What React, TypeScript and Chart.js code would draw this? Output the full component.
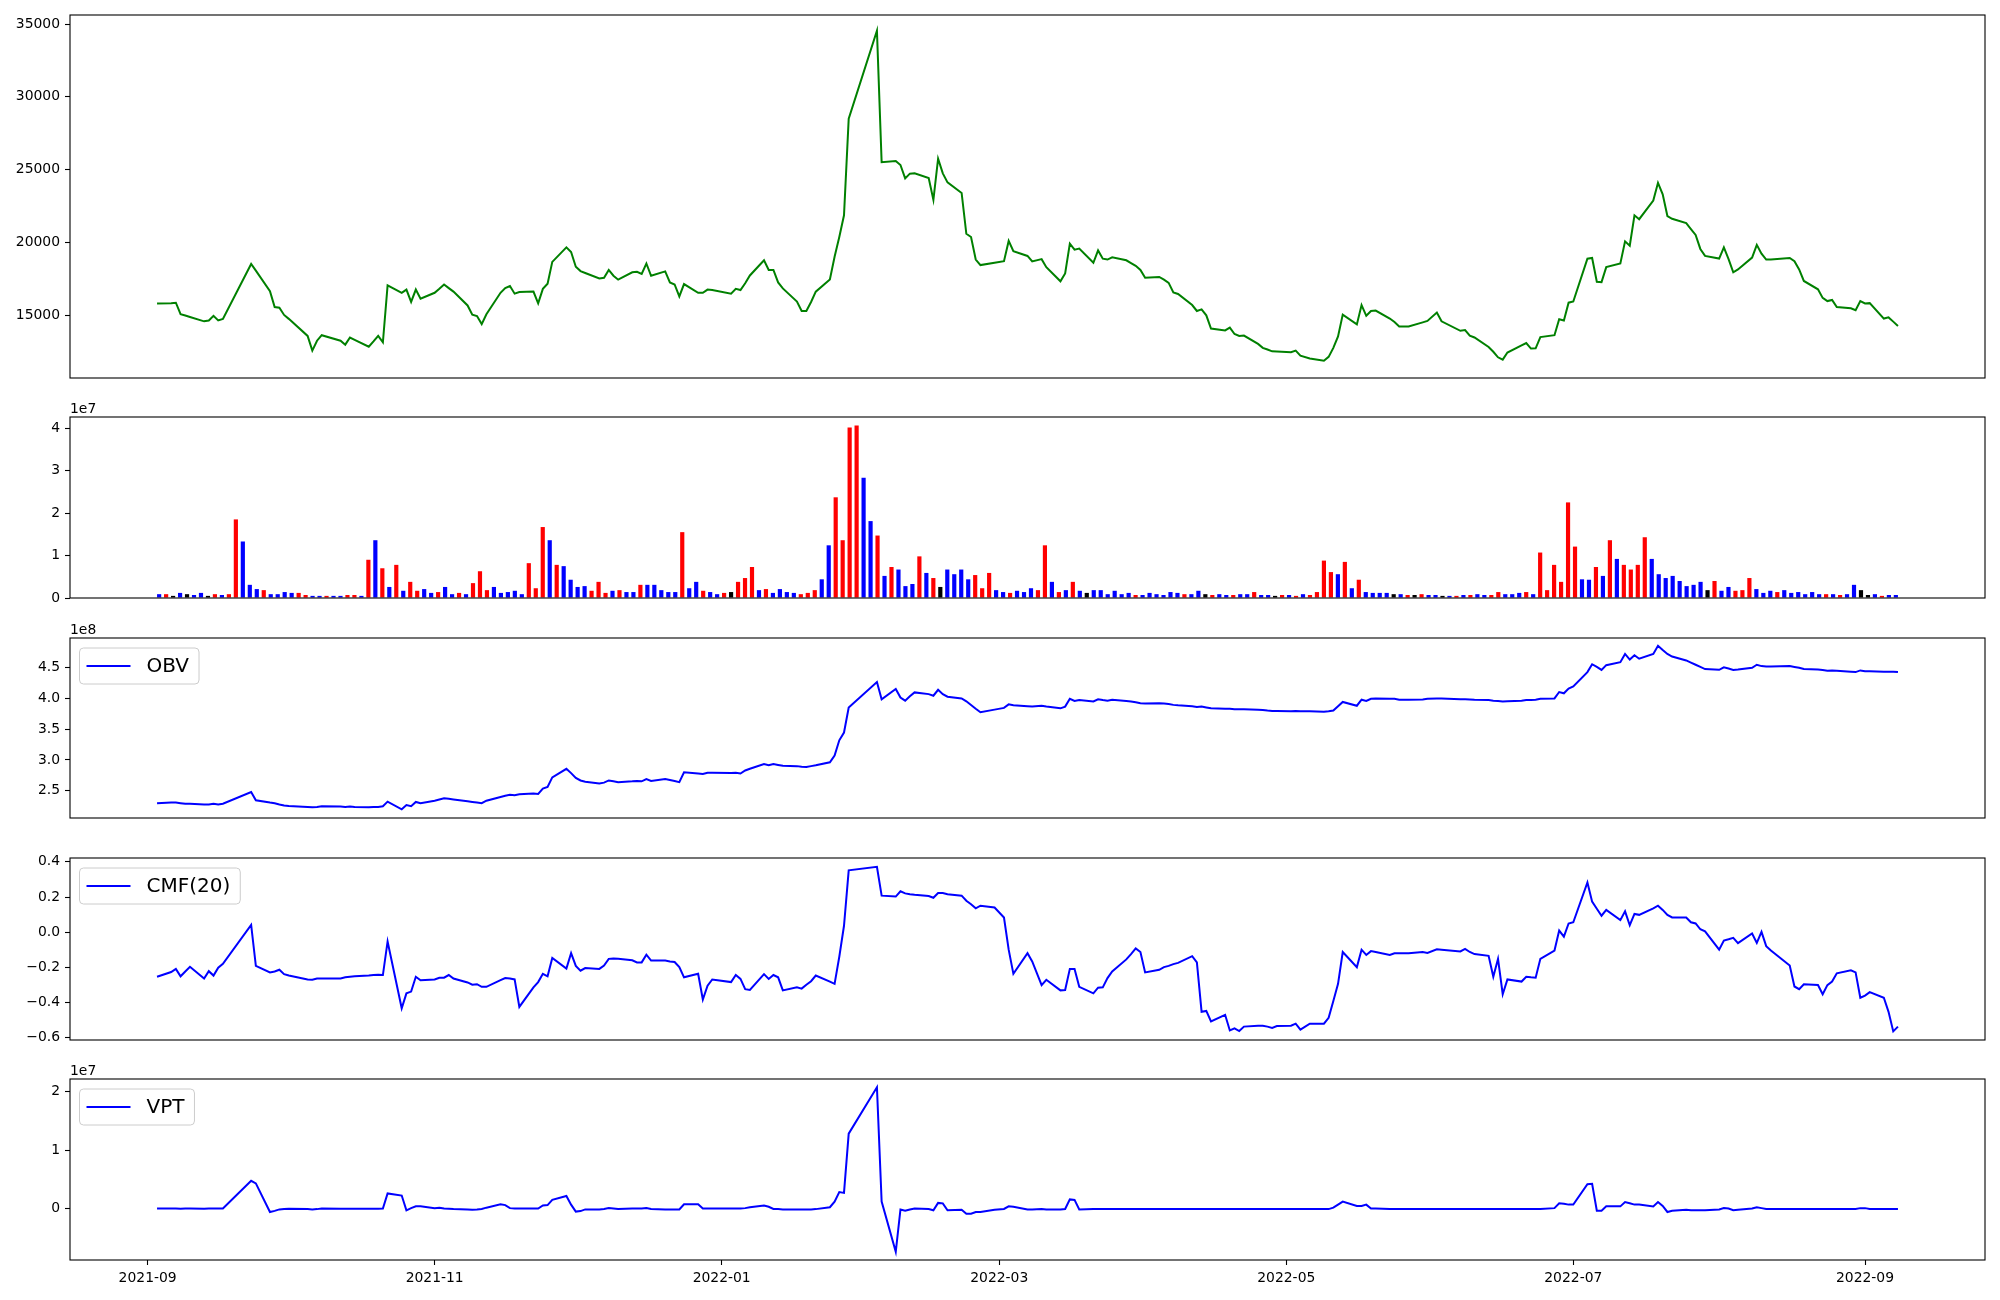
import React, { useEffect, useRef } from 'react';
import { Chart, registerables } from 'chart.js';

Chart.register(...registerables);

const FONT = "'DejaVu Sans', 'Liberation Sans', sans-serif";

// ---------- categories: Korean trading days ----------
const TRADING_DAYS: [string, number[]][] = [
  ['2021-09', [3, 6, 7, 8, 9, 10, 13, 14, 15, 16, 17, 23, 24, 27, 28, 29, 30]],
  ['2021-10', [1, 5, 6, 7, 8, 12, 13, 14, 15, 18, 19, 20, 21, 22, 25, 26, 27, 28, 29]],
  ['2021-11', [1, 2, 3, 4, 5, 8, 9, 10, 11, 12, 15, 16, 17, 18, 19, 22, 23, 24, 25, 26, 29, 30]],
  ['2021-12', [1, 2, 3, 6, 7, 8, 9, 10, 13, 14, 15, 16, 17, 20, 21, 22, 23, 24, 27, 28, 29, 30]],
  ['2022-01', [3, 4, 5, 6, 7, 10, 11, 12, 13, 14, 17, 18, 19, 20, 21, 24, 25, 26, 27, 28]],
  ['2022-02', [3, 4, 7, 8, 9, 10, 11, 14, 15, 16, 17, 18, 21, 22, 23, 24, 25, 28]],
  ['2022-03', [2, 3, 4, 7, 8, 10, 11, 14, 15, 16, 17, 18, 21, 22, 23, 24, 25, 28, 29, 30, 31]],
  ['2022-04', [1, 4, 5, 6, 7, 8, 11, 12, 13, 14, 15, 18, 19, 20, 21, 22, 25, 26, 27, 28, 29]],
  ['2022-05', [2, 3, 4, 6, 9, 10, 11, 12, 13, 16, 17, 18, 19, 20, 23, 24, 25, 26, 27, 30, 31]],
  ['2022-06', [2, 3, 7, 8, 9, 10, 13, 14, 15, 16, 17, 20, 21, 22, 23, 24, 27, 28, 29, 30]],
  ['2022-07', [1, 4, 5, 6, 7, 8, 11, 12, 13, 14, 15, 18, 19, 20, 21, 22, 25, 26, 27, 28, 29]],
  ['2022-08', [1, 2, 3, 4, 5, 8, 9, 10, 11, 12, 16, 17, 18, 19, 22, 23, 24, 25, 26, 29, 30, 31]],
  ['2022-09', [1, 2, 5, 6, 7, 8]],
];

const X_TICK_MONTHS = ['2021-09', '2021-11', '2022-01', '2022-03', '2022-05', '2022-07', '2022-09'];

// ---------- series ----------
const PRICE = [
  15815, 15840, 15870, 15080, 14990, 14890, 14590, 14650, 14970, 14650,
  14760, 18530, 18070, 16660, 15570, 15520, 15030, 14760, 13590, 12580,
  13260, 13640, 13260, 12990, 13480, 13320, 12850, 13210, 13590, 13150,
  17060, 16550, 16770, 15920, 16770, 16140, 16550, 16820, 17120, 16870,
  16630, 15680, 15050, 14950, 14400, 15080, 16550, 16870, 17010, 16490,
  16600, 16630, 15820, 16820, 17170, 18670, 19670, 19350, 18340, 18040,
  17910, 17530, 17580, 18120, 17720, 17450, 17960, 17990, 17850, 18560,
  17720, 18020, 17260, 17120, 16300, 17150, 16550, 16550, 16770, 16740,
  16490, 16820, 16740, 17200, 17740, 18780, 18120, 18120, 17260, 16850,
  15950, 15300, 15300, 15920, 16630, 17470, 19020, 20380, 21870, 28500,
  34540, 25510, 25600, 25320, 24400, 24730, 24750, 24430, 22930, 25760,
  24750, 24130, 23400, 20600, 20380, 18830, 18450, 18610, 18720, 20110,
  19400, 19080, 18700, 18860, 18310, 17340, 17880, 19920, 19510, 19590,
  18610, 19460, 18890, 18830, 18990, 18780, 18590, 18400, 18120, 17580,
  17640, 17450, 17230, 16580, 16470, 15710, 15300, 15410, 15000, 14100,
  13970, 14160, 13720, 13590, 13610, 13040, 12770, 12660, 12530, 12520,
  12470, 12580, 12230, 12040, 11880, 12150, 12770, 13560, 15050, 14380,
  15710, 14970, 15300, 15330, 14780, 14540, 14240, 14240, 14240, 14520,
  14620, 15190, 14590, 13940, 13990, 13610, 13480, 12830, 12500, 12120,
  11960, 12450, 12940, 13100, 12720, 12740, 13510, 13640, 14730, 14650,
  15870, 15950, 18890, 18940, 17310, 17280, 18310, 18560, 20080, 19780,
  21870, 21600, 22880, 24100, 23310, 21820, 21630, 21330, 20920, 20520,
  19560, 19080, 18900, 19670, 18860, 17960, 18150, 18970, 19840, 19240,
  18830, 18830, 18940, 18720, 18150, 17360, 16790, 16200, 15980, 16060,
  15570, 15490, 15350, 15980, 15820, 15840, 14780, 14860, 14570, 14270,
];

// volume in millions of shares
const VOLUME_M = [
  0.9, 0.9, 0.5, 1.2, 0.9, 0.7, 1.2, 0.5, 0.9, 0.7,
  0.9, 18.5, 13.3, 3.1, 2.1, 1.85, 0.9, 0.9, 1.4, 1.2,
  1.2, 0.7, 0.5, 0.5, 0.5, 0.5, 0.5, 0.7, 0.7, 0.5,
  9.0, 13.6, 7.0, 2.6, 7.8, 1.7, 3.8, 1.7, 2.1, 1.2,
  1.4, 2.6, 0.9, 1.2, 0.9, 3.5, 6.3, 1.85, 2.6, 1.2,
  1.4, 1.7, 0.9, 8.2, 2.3, 16.7, 13.6, 7.8, 7.5, 4.3,
  2.6, 2.8, 1.7, 3.8, 1.2, 1.7, 1.85, 1.4, 1.4, 3.1,
  3.1, 3.1, 1.85, 1.4, 1.4, 15.5, 2.3, 3.8, 1.7, 1.4,
  0.9, 1.2, 1.4, 3.8, 4.7, 7.3, 1.85, 2.1, 1.2, 2.1,
  1.4, 1.2, 0.9, 1.2, 1.85, 4.4, 12.4, 23.7, 13.6, 40.1,
  40.6, 28.3, 18.1, 14.7, 5.2, 7.3, 6.7, 2.8, 3.3, 9.8,
  5.9, 4.7, 2.6, 6.7, 5.6, 6.7, 4.4, 5.4, 2.3, 5.9,
  1.85, 1.4, 1.2, 1.7, 1.4, 2.3, 1.85, 12.4, 3.8, 1.4,
  1.85, 3.8, 1.7, 1.2, 1.85, 1.85, 0.9, 1.7, 0.9, 1.2,
  0.7, 0.7, 1.2, 0.9, 0.7, 1.4, 1.2, 0.9, 0.9, 1.7,
  0.9, 0.7, 0.9, 0.7, 0.7, 0.9, 0.9, 1.4, 0.7, 0.7,
  0.5, 0.7, 0.7, 0.5, 0.9, 0.7, 1.4, 8.8, 6.1, 5.6,
  8.5, 2.3, 4.3, 1.4, 1.2, 1.2, 1.2, 0.9, 0.9, 0.7,
  0.7, 0.9, 0.7, 0.7, 0.5, 0.5, 0.5, 0.7, 0.7, 0.9,
  0.7, 0.7, 1.4, 0.9, 0.9, 1.2, 1.4, 0.9, 10.7, 1.85,
  7.8, 3.8, 22.5, 12.1, 4.4, 4.3, 7.3, 5.2, 13.6, 9.2,
  7.8, 6.7, 7.8, 14.3, 9.2, 5.6, 4.7, 5.2, 4.0, 2.8,
  3.1, 3.8, 1.85, 4.0, 1.7, 2.6, 1.7, 1.85, 4.7, 2.1,
  1.2, 1.7, 1.4, 1.85, 1.2, 1.4, 0.9, 1.4, 0.9, 0.9,
  0.9, 0.7, 0.9, 3.1, 1.85, 0.7, 0.9, 0.5, 0.7, 0.7,
];

// r = up day, b = down day, k = unchanged
const VOLUME_DIR =
  'brkbkbbkrb' + 'rrbbbrbbbb' + 'rrbbrbbrrb' + 'rbrbrbrrbb' + 'rbbrbrrrbb' +
  'bbbrrrbrbb' + 'bbrrrbrbbr' + 'bbbbbrbbrb' + 'brkrrrbrbb' + 'bbrrrbbrrr' +
  'rbbrbrbbbr' + 'brkbbbbrrr' + 'bbrbbbrrbr' + 'brbkbbbbbb' + 'rbbbbbbrbb' +
  'krbbrbbrbb' + 'krbrbrrrrb' + 'rbrbbbbkbr' + 'krbbkbrbrb' + 'brrbbbrbrr' +
  'rrrrbbrbrb' + 'rrrrbbbbbb' + 'bbkrbbrrrb' + 'bbrbbbbbbr' + 'brbbkkbrbb';

// OBV in units of 1e8
const OBV_E8 = [
  2.297, 2.31, 2.31, 2.30, 2.29, 2.29, 2.28, 2.28, 2.29, 2.28,
  2.29, 2.479, 2.346, 2.31, 2.30, 2.28, 2.262, 2.255, 2.24, 2.235,
  2.24, 2.25, 2.245, 2.24, 2.245, 2.24, 2.235, 2.24, 2.24, 2.25,
  2.325, 2.20, 2.27, 2.25, 2.32, 2.30, 2.34, 2.36, 2.38, 2.37,
  2.36, 2.33, 2.32, 2.31, 2.30, 2.34, 2.40, 2.42, 2.437, 2.43,
  2.444, 2.458, 2.45, 2.535, 2.563, 2.717, 2.857, 2.787, 2.71, 2.668,
  2.647, 2.619, 2.633, 2.668, 2.654, 2.64, 2.654, 2.661, 2.654, 2.69,
  2.66, 2.69, 2.675, 2.66, 2.64, 2.80, 2.78, 2.773, 2.794, 2.794,
  2.787, 2.794, 2.78, 2.83, 2.857, 2.934, 2.913, 2.934, 2.92, 2.906,
  2.90, 2.89, 2.885, 2.90, 2.913, 2.962, 3.073, 3.318, 3.444, 3.85,
  4.262, 3.983, 4.15, 4.01, 3.96, 4.03, 4.094, 4.066, 4.04, 4.136,
  4.066, 4.024, 3.996, 3.95, 3.89, 3.83, 3.773, 3.815, 3.843, 3.90,
  3.885, 3.87, 3.864, 3.878, 3.864, 3.836, 3.864, 3.99, 3.955, 3.97,
  3.948, 3.983, 3.97, 3.96, 3.975, 3.955, 3.948, 3.934, 3.92, 3.913,
  3.92, 3.913, 3.906, 3.892, 3.885, 3.87, 3.857, 3.864, 3.85, 3.836,
  3.83, 3.83, 3.82, 3.82, 3.82, 3.815, 3.81, 3.80, 3.794, 3.794,
  3.787, 3.794, 3.787, 3.787, 3.78, 3.787, 3.80, 3.87, 3.94, 3.878,
  3.975, 3.955, 3.99, 3.996, 3.99, 3.99, 3.975, 3.975, 3.975, 3.98,
  3.99, 3.996, 3.996, 3.983, 3.983, 3.98, 3.975, 3.97, 3.96, 3.955,
  3.948, 3.95, 3.96, 3.97, 3.97, 3.975, 3.99, 3.996, 4.10, 4.08,
  4.157, 4.19, 4.423, 4.55, 4.507, 4.458, 4.535, 4.584, 4.717, 4.626,
  4.696, 4.64, 4.717, 4.85, 4.78, 4.717, 4.675, 4.612, 4.577, 4.542,
  4.507, 4.472, 4.46, 4.50, 4.48, 4.458, 4.465, 4.493, 4.542, 4.52,
  4.514, 4.514, 4.52, 4.507, 4.493, 4.472, 4.465, 4.458, 4.444, 4.448,
  4.444, 4.43, 4.423, 4.45, 4.437, 4.437, 4.43, 4.43, 4.427, 4.423,
];

const CMF20 = [
  -0.253, -0.226, -0.208, -0.25, -0.223, -0.196, -0.263, -0.221, -0.246, -0.201,
  -0.179, 0.042, -0.191, -0.228, -0.223, -0.213, -0.238, -0.246, -0.268, -0.27,
  -0.263, -0.263, -0.263, -0.256, -0.253, -0.25, -0.246, -0.243, -0.241, -0.243,
  -0.052, -0.432, -0.347, -0.337, -0.253, -0.273, -0.268, -0.258, -0.258, -0.243,
  -0.263, -0.285, -0.298, -0.295, -0.31, -0.31, -0.272, -0.26, -0.263, -0.268,
  -0.424, -0.313, -0.283, -0.236, -0.25, -0.146, -0.206, -0.119, -0.191, -0.218,
  -0.203, -0.208, -0.189, -0.151, -0.149, -0.151, -0.159, -0.171, -0.171, -0.127,
  -0.161, -0.161, -0.166, -0.169, -0.198, -0.256, -0.236, -0.382, -0.303, -0.268,
  -0.283, -0.243, -0.265, -0.323, -0.328, -0.238, -0.265, -0.243, -0.256, -0.33,
  -0.313, -0.32, -0.298, -0.278, -0.246, -0.28, -0.293, -0.139, 0.037, 0.352,
  0.372, 0.208, 0.203, 0.233, 0.221, 0.216, 0.213, 0.206, 0.196, 0.223,
  0.223, 0.216, 0.208, 0.179, 0.159, 0.136, 0.151, 0.141, 0.084, -0.099,
  -0.236, -0.119, -0.166, -0.30, -0.27, -0.33, -0.328, -0.208, -0.208, -0.31,
  -0.347, -0.315, -0.313, -0.26, -0.223, -0.154, -0.124, -0.092, -0.112, -0.228,
  -0.213, -0.198, -0.191, -0.181, -0.174, -0.136, -0.171, -0.452, -0.447, -0.506,
  -0.469, -0.558, -0.546, -0.561, -0.536, -0.531, -0.531, -0.536, -0.543, -0.533,
  -0.531, -0.519, -0.553, -0.519, -0.519, -0.486, -0.39, -0.293, -0.112, -0.198,
  -0.099, -0.129, -0.107, -0.112, -0.129, -0.119, -0.119, -0.119, -0.119, -0.112,
  -0.117, -0.097, -0.099, -0.109, -0.094, -0.112, -0.124, -0.134, -0.253, -0.151,
  -0.352, -0.268, -0.28, -0.253, -0.256, -0.258, -0.151, -0.104, 0.01, -0.025,
  0.05, 0.057, 0.283, 0.174, 0.134, 0.094, 0.127, 0.069, 0.119, 0.04,
  0.104, 0.099, 0.136, 0.151, 0.127, 0.099, 0.084, 0.084, 0.057, 0.05,
  0.017, 0.005, -0.099, -0.047, -0.04, -0.032, -0.062, -0.007, -0.06, 0.002,
  -0.079, -0.104, -0.189, -0.308, -0.323, -0.295, -0.30, -0.352, -0.30, -0.28,
  -0.233, -0.216, -0.228, -0.372, -0.36, -0.34, -0.372, -0.452, -0.563, -0.536,
];

// VPT in units of 1e7
const VPT_E7 = [
  0, 0, 0, -0.005, 0, 0, -0.003, 0, 0, 0,
  0, 0.474, 0.43, -0.059, -0.04, -0.015, -0.007, -0.005, -0.01, -0.015,
  -0.01, 0, -0.005, -0.005, -0.005, -0.005, -0.005, -0.005, -0.003, 0,
  0.259, 0.222, -0.03, 0.007, 0.037, 0.037, 0.007, 0.015, 0, -0.005,
  -0.01, -0.015, -0.02, -0.015, -0.007, 0.015, 0.074, 0.059, 0.007, 0,
  0, 0, 0, 0.052, 0.059, 0.148, 0.215, 0.067, -0.052, -0.044,
  -0.015, -0.015, -0.007, 0.007, 0, -0.007, 0, 0, 0, 0.007,
  -0.007, -0.015, -0.015, -0.015, -0.015, 0.074, 0.074, 0, 0, 0,
  0, 0, 0, 0.007, 0.022, 0.052, 0.03, -0.007, -0.01, -0.015,
  -0.015, -0.015, -0.015, -0.015, -0.01, 0.022, 0.119, 0.281, 0.267, 1.281,
  2.074, 0.119, -0.741, -0.015, -0.037, -0.015, 0, -0.007, -0.03, 0.096,
  0.089, -0.03, -0.022, -0.089, -0.089, -0.059, -0.059, -0.022, -0.007, 0.037,
  0.03, -0.015, -0.015, -0.007, -0.015, -0.015, -0.007, 0.156, 0.148, -0.015,
  -0.01, -0.01, -0.01, -0.01, -0.01, -0.01, -0.01, -0.01, -0.01, -0.01,
  -0.01, -0.01, -0.01, -0.01, -0.01, -0.01, -0.01, -0.01, -0.01, -0.01,
  -0.01, -0.01, -0.01, -0.01, -0.01, -0.01, -0.01, -0.01, -0.01, -0.01,
  -0.01, -0.01, -0.01, -0.01, -0.01, -0.01, 0.015, 0.067, 0.119, 0.044,
  0.044, 0.067, 0, 0, -0.007, -0.007, -0.007, -0.007, -0.007, -0.007,
  -0.007, -0.007, -0.007, -0.007, -0.007, -0.007, -0.007, -0.007, -0.007, -0.007,
  -0.007, -0.007, -0.007, -0.007, -0.007, -0.007, -0.007, 0.007, 0.089, 0.081,
  0.067, 0.067, 0.415, 0.422, -0.037, -0.037, 0.037, 0.037, 0.111, 0.089,
  0.067, 0.067, 0.037, 0.111, 0.044, -0.059, -0.037, -0.022, -0.03, -0.03,
  -0.03, -0.03, -0.015, 0.007, 0, -0.03, -0.022, 0, 0.022, 0.007,
  -0.007, -0.007, -0.007, -0.007, -0.007, -0.007, -0.007, -0.007, -0.007, -0.007,
  -0.007, -0.007, -0.007, 0.007, 0.007, -0.007, -0.007, -0.007, -0.007, -0.007,
];

// ---------- tick values ----------
const PRICE_TICKS = [15000, 20000, 25000, 30000, 35000];
const VOLUME_TICKS = [0, 1e7, 2e7, 3e7, 4e7];
const OBV_TICKS = [2.5, 3.0, 3.5, 4.0, 4.5];
const CMF_TICKS = [-0.6, -0.4, -0.2, 0, 0.2, 0.4];
const VPT_TICKS = [0, 1, 2];

// ---------- layout ----------
const W = 2000;
const H = 1300;
const PLOT_LEFT = 70;
const PLOT_RIGHT = 1985;
const PANELS = [
  { top: 15, bottom: 378 },
  { top: 417, bottom: 598 },
  { top: 638, bottom: 818 },
  { top: 858, bottom: 1040 },
  { top: 1079, bottom: 1260 },
];
const X_AXIS_H = 30;
const TICK_FONT = 13.9;

const EPOCH = Date.UTC(2021, 8, 1);
function dayNum(s: string): number {
  const [y, m, d] = s.split('-').map(Number);
  return (Date.UTC(y, m - 1, d) - EPOCH) / 86400000;
}

const DATES: string[] = TRADING_DAYS.flatMap(([m, ds]) =>
  ds.map((d) => `${m}-${String(d).padStart(2, '0')}`)
);
const XS = DATES.map(dayNum);
const X_SPAN = XS[XS.length - 1] - XS[0];
const X_MIN = XS[0] - 0.05 * X_SPAN;
const X_MAX = XS[XS.length - 1] + 0.05 * X_SPAN;

const BAR_W = 0.6;
const BAR_LO = -BAR_W / 2;
const BAR_HI = VOLUME_M.length - 1 + BAR_W / 2;
const BAR_MIN = BAR_LO - 0.05 * (BAR_HI - BAR_LO);
const BAR_MAX = BAR_HI + 0.05 * (BAR_HI - BAR_LO);

const DIR_COLOR: Record<string, string> = { r: '#ff0000', b: '#0000ff', k: '#000000' };

function roundRectPath(ctx: CanvasRenderingContext2D, x: number, y: number, w: number, h: number, r: number) {
  ctx.beginPath();
  ctx.moveTo(x + r, y);
  ctx.lineTo(x + w - r, y);
  ctx.arcTo(x + w, y, x + w, y + r, r);
  ctx.lineTo(x + w, y + h - r);
  ctx.arcTo(x + w, y + h, x + w - r, y + h, r);
  ctx.lineTo(x + r, y + h);
  ctx.arcTo(x, y + h, x, y + h - r, r);
  ctx.lineTo(x, y + r);
  ctx.arcTo(x, y, x + r, y, r);
  ctx.closePath();
}

const decoPlugin = {
  id: 'deco',
  afterDatasetsDraw(chart: any, _args: any, opts: any) {
    const ctx: CanvasRenderingContext2D = chart.ctx;
    const a = chart.chartArea;
    ctx.save();
    ctx.strokeStyle = '#000';
    ctx.lineWidth = 1.1;
    ctx.strokeRect(a.left, a.top, a.right - a.left, a.bottom - a.top);
    if (opts && opts.offset) {
      ctx.font = `${TICK_FONT}px ${FONT}`;
      ctx.fillStyle = '#000';
      ctx.textAlign = 'left';
      ctx.textBaseline = 'alphabetic';
      ctx.fillText(opts.offset, a.left, a.top - 4);
    }
    if (opts && opts.legend) {
      ctx.font = `20px ${FONT}`;
      const tw = ctx.measureText(opts.legend).width;
      const bx = a.left + 9.5;
      const by = a.top + 10;
      const bw = 67 + tw + 10;
      const bh = 36;
      roundRectPath(ctx, bx, by, bw, bh, 4);
      ctx.fillStyle = 'rgba(255,255,255,0.8)';
      ctx.fill();
      ctx.strokeStyle = '#cccccc';
      ctx.lineWidth = 1;
      ctx.stroke();
      ctx.beginPath();
      ctx.moveTo(bx + 7, by + bh / 2);
      ctx.lineTo(bx + 51, by + bh / 2);
      ctx.strokeStyle = opts.color;
      ctx.lineWidth = 2;
      ctx.stroke();
      ctx.fillStyle = '#000';
      ctx.textAlign = 'left';
      ctx.textBaseline = 'middle';
      ctx.fillText(opts.legend, bx + 67, by + bh / 2 + 1);
    }
    ctx.restore();
  },
};

const gridOpts = {
  drawOnChartArea: false,
  drawTicks: true,
  tickLength: 5,
  tickColor: '#000',
  tickWidth: 1.1,
  color: '#000',
};

function yScale(min: number, max: number, ticks: number[], fmt: (v: number) => string) {
  return {
    type: 'linear',
    position: 'left',
    min,
    max,
    afterFit: (s: any) => {
      s.width = PLOT_LEFT;
    },
    afterBuildTicks: (s: any) => {
      s.ticks = ticks.map((v) => ({ value: v }));
    },
    ticks: {
      autoSkip: false,
      padding: 5,
      color: '#000',
      font: { family: FONT, size: TICK_FONT },
      callback: (v: any) => fmt(Number(v)),
    },
    grid: gridOpts,
    border: { display: false },
  };
}

function hiddenX(min: number, max: number) {
  return { type: 'linear', min, max, display: false, offset: false };
}

function bottomX() {
  return {
    type: 'linear',
    position: 'bottom',
    min: X_MIN,
    max: X_MAX,
    offset: false,
    afterFit: (s: any) => {
      s.height = X_AXIS_H;
    },
    afterBuildTicks: (s: any) => {
      s.ticks = X_TICK_MONTHS.map((m) => ({ value: dayNum(m + '-01') }));
    },
    ticks: {
      autoSkip: false,
      maxRotation: 0,
      minRotation: 0,
      padding: 5,
      color: '#000',
      font: { family: FONT, size: TICK_FONT },
      callback: (_v: any, i: number) => X_TICK_MONTHS[i],
    },
    grid: gridOpts,
    border: { display: false },
  };
}

function padding(p: { top: number; bottom: number }, withXAxis: boolean) {
  return {
    left: 0,
    right: W - PLOT_RIGHT,
    top: p.top,
    bottom: withXAxis ? H - p.bottom - X_AXIS_H : H - p.bottom,
  };
}

const minus = (s: string) => s.replace('-', '\u2212');

function lineDataset(values: number[], color: string) {
  return {
    data: XS.map((x, i) => ({ x, y: values[i] })),
    borderColor: color,
    borderWidth: 2,
    pointRadius: 0,
    pointHoverRadius: 0,
    tension: 0,
    fill: false,
  };
}

function baseOptions(p: { top: number; bottom: number }, withXAxis: boolean, deco: any, scales: any) {
  return {
    responsive: false,
    animation: false,
    events: [],
    layout: { padding: padding(p, withXAxis) },
    plugins: { legend: { display: false }, tooltip: { enabled: false }, deco },
    scales,
  };
}

function buildConfigs(): any[] {
  const price = {
    type: 'line',
    data: { datasets: [lineDataset(PRICE, '#008000')] },
    options: baseOptions(PANELS[0], false, {}, {
      x: hiddenX(X_MIN, X_MAX),
      y: yScale(10700, 35620, PRICE_TICKS, (v) => String(Math.round(v))),
    }),
    plugins: [decoPlugin],
  };
  const volume = {
    type: 'bar',
    data: {
      datasets: [
        {
          data: VOLUME_M.map((v, i) => ({ x: i, y: v * 1e6 })),
          backgroundColor: VOLUME_DIR.split('').map((c) => DIR_COLOR[c]),
          borderWidth: 0,
          barPercentage: BAR_W,
          categoryPercentage: 1,
        },
      ],
    },
    options: baseOptions(PANELS[1], false, { offset: '1e7' }, {
      x: hiddenX(BAR_MIN, BAR_MAX),
      y: yScale(0, 4.26e7, VOLUME_TICKS, (v) => String(Math.round(v / 1e7))),
    }),
    plugins: [decoPlugin],
  };
  const obv = {
    type: 'line',
    data: { datasets: [lineDataset(OBV_E8, '#0000ff')] },
    options: baseOptions(PANELS[2], false, { offset: '1e8', legend: 'OBV', color: '#0000ff' }, {
      x: hiddenX(X_MIN, X_MAX),
      y: yScale(2.06, 4.975, OBV_TICKS, (v) => v.toFixed(1)),
    }),
    plugins: [decoPlugin],
  };
  const cmf = {
    type: 'line',
    data: { datasets: [lineDataset(CMF20, '#0000ff')] },
    options: baseOptions(PANELS[3], false, { legend: 'CMF(20)', color: '#0000ff' }, {
      x: hiddenX(X_MIN, X_MAX),
      y: yScale(-0.612, 0.422, CMF_TICKS, (v) => minus((Math.abs(v) < 1e-9 ? 0 : v).toFixed(1))),
    }),
    plugins: [decoPlugin],
  };
  const vpt = {
    type: 'line',
    data: { datasets: [lineDataset(VPT_E7, '#0000ff')] },
    options: baseOptions(PANELS[4], true, { offset: '1e7', legend: 'VPT', color: '#0000ff' }, {
      x: bottomX(),
      y: yScale(-0.88, 2.215, VPT_TICKS, (v) => String(Math.round(v))),
    }),
    plugins: [decoPlugin],
  };
  return [price, volume, obv, cmf, vpt];
}

export default function App() {
  const r0 = useRef<HTMLCanvasElement>(null);
  const r1 = useRef<HTMLCanvasElement>(null);
  const r2 = useRef<HTMLCanvasElement>(null);
  const r3 = useRef<HTMLCanvasElement>(null);
  const r4 = useRef<HTMLCanvasElement>(null);
  const refs = [r0, r1, r2, r3, r4];

  useEffect(() => {
    const configs = buildConfigs();
    const charts = configs.map((cfg, i) => new Chart(refs[i].current as HTMLCanvasElement, cfg));
    return () => {
      charts.forEach((c) => c.destroy());
    };
  }, []);

  return (
    <div style={{ position: 'absolute', left: 0, top: 0, width: W, height: H, background: '#ffffff', overflow: 'hidden' }}>
      {refs.map((r, i) => (
        <canvas
          key={i}
          ref={r}
          width={W}
          height={H}
          style={{ position: 'absolute', left: 0, top: 0, width: W, height: H }}
        />
      ))}
    </div>
  );
}
